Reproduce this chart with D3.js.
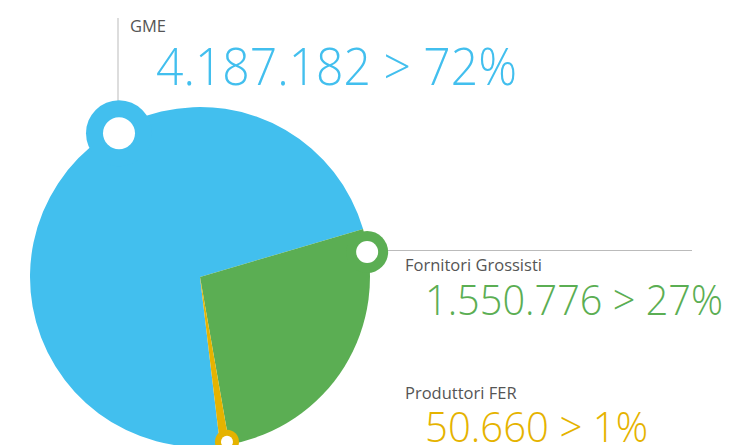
<!DOCTYPE html>
<html>
<head>
<meta charset="utf-8">
<script src="https://cdn.jsdelivr.net/npm/d3@7"></script>
<style>
  body { margin: 0; background: #fff; }
  .lab { font-family: "Open Sans", sans-serif; font-weight: 400; font-size: 16.5px; fill: #555; }
  .val { font-family: "Open Sans", sans-serif; font-weight: 300; }
</style>
</head>
<body>
<div id="chart"></div>
<script>
// data
var categories = ["GME", "Fornitori Grossisti", "Produttori FER"];
var values = [4187182, 1550776, 50660];
var percents = ["72%", "27%", "1%"];
var colors = ["#42bfee", "#5bae53", "#e5b300"];

var svgwidth = 731, svgheight = 445;
var cx = 200, cy = 277, radius = 170;

var svg = d3.select("#chart").append("svg").attr("width", svgwidth).attr("height", svgheight);
var g = svg.append("g").attr("transform", `translate(${cx}, ${cy})`);

var rad = d => d * Math.PI / 180;
var pie = d3.pie().sort(null).startAngle(rad(173.2)).endAngle(rad(173.2 + 360));
var arc = d3.arc().innerRadius(0).outerRadius(radius);
var arcs = pie(values);

g.selectAll("path.slice").data(arcs).enter().append("path")
    .attr("class", "slice")
    .attr("d", arc)
    .attr("fill", (d, i) => colors[i]);

// knobs on the rim
var knobs = [
    {ang: 330.6, r: 165, outer: 33, inner: 16},
    {ang: 81.5, r: 169, outer: 21, inner: 11},
    {ang: 170.7, r: 167, outer: 12, inner: 6}
];
knobs.forEach(function(k) {
    k.x = cx + k.r * Math.sin(rad(k.ang));
    k.y = cy - k.r * Math.cos(rad(k.ang));
});

// leader lines
svg.append("line").attr("x1", 118).attr("x2", 118).attr("y1", 18).attr("y2", knobs[0].y - knobs[0].outer + 2)
    .attr("stroke", "#bbb").attr("stroke-width", 1);
svg.append("line").attr("x1", knobs[1].x + knobs[1].outer - 2).attr("x2", 692).attr("y1", 250.5).attr("y2", 250.5)
    .attr("stroke", "#bbb").attr("stroke-width", 1);

knobs.forEach(function(k, i) {
    svg.append("circle").attr("cx", k.x).attr("cy", k.y).attr("r", k.outer).attr("fill", colors[i]);
    svg.append("circle").attr("cx", k.x).attr("cy", k.y).attr("r", k.inner).attr("fill", "#fff");
});

// labels
var fmt = d3.formatLocale({decimal: ",", thousands: ".", grouping: [3], currency: ["", "€"]}).format(",");
var labelPos = [
    {lx: 130, ly: 32, vx: 156, vy: 85, size: 51, w: 361},
    {lx: 405, ly: 271, vx: 425, vy: 315, size: 42, w: 298},
    {lx: 405, ly: 399, vx: 425, vy: 442, size: 42, w: 223}
];
labelPos.forEach(function(p, i) {
    svg.append("text").attr("class", "lab").attr("x", p.lx).attr("y", p.ly).text(categories[i]);
    svg.append("text").attr("class", "val").attr("x", p.vx).attr("y", p.vy)
        .attr("fill", colors[i]).style("font-size", p.size + "px")
        .attr("textLength", p.w).attr("lengthAdjust", "spacingAndGlyphs")
        .text(fmt(values[i]) + " > " + percents[i]);
});
</script>
</body>
</html>
